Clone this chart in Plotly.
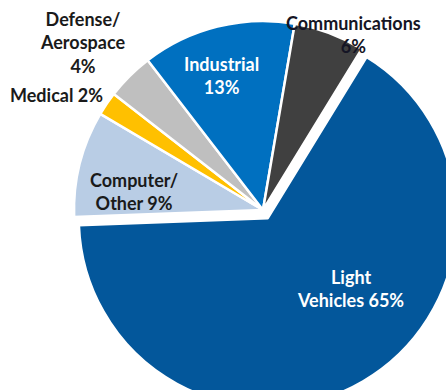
import plotly.graph_objects as go

# ---- data ----
categories = ["Light Vehicles", "Computer/Other", "Medical", "Defense/Aerospace", "Industrial", "Communications"]
values = [65, 9, 2, 4, 13, 6]
label_formats = ["Light<br>Vehicles {}%", "Computer/<br>Other {}%", "Medical {}%",
                 "Defense/<br>Aerospace<br>{}%", "Industrial<br>{}%", "Communications<br>{}%"]

# ---- styling / layout ----
colors = ["#03579B", "#B9CDE5", "#FFC000", "#BFBFBF", "#0070C0", "#404040"]
text_colors = ["#FFFFFF", "#1A1A1A", "#1A1A1A", "#1A1A1A", "#FFFFFF", "#151525"]
# label anchor points in figure pixels (x from left, y from top)
label_px = [(350, 288), (134, 191), (56, 95), (82, 43), (221, 76), (353, 35)]
pulls = [0.05, 0, 0, 0, 0, 0]

W, H = 470, 410
CX, CY, R = 263, 210, 189
half = R * (1 + max(pulls))

fig = go.Figure(go.Pie(
    labels=categories,
    values=values,
    textinfo="none",
    sort=False,
    direction="clockwise",
    rotation=31.5,
    pull=pulls,
    marker=dict(colors=colors, line=dict(color="#FFFFFF", width=2.5)),
    domain=dict(x=[(CX - half) / W, (CX + half) / W],
                y=[1 - (CY + half) / H, 1 - (CY - half) / H]),
    showlegend=False,
    hoverinfo="label+value",
))

for fmt, v, (px, py), col in zip(label_formats, values, label_px, text_colors):
    fig.add_annotation(
        text=fmt.format(v),
        x=px / W, y=1 - py / H, xref="paper", yref="paper",
        xanchor="center", yanchor="middle", showarrow=False,
        font=dict(family="Lato", size=18, weight="bold", color=col),
    )

fig.update_layout(
    width=W, height=H,
    margin=dict(l=0, r=0, t=0, b=0),
    paper_bgcolor="#FFFFFF",
    plot_bgcolor="#FFFFFF",
)

fig.write_html(
    "out.html",
    config={"displayModeBar": False},
    post_script="document.documentElement.style.overflow='hidden';document.body.style.overflow='hidden';document.body.style.margin='0';",
)
